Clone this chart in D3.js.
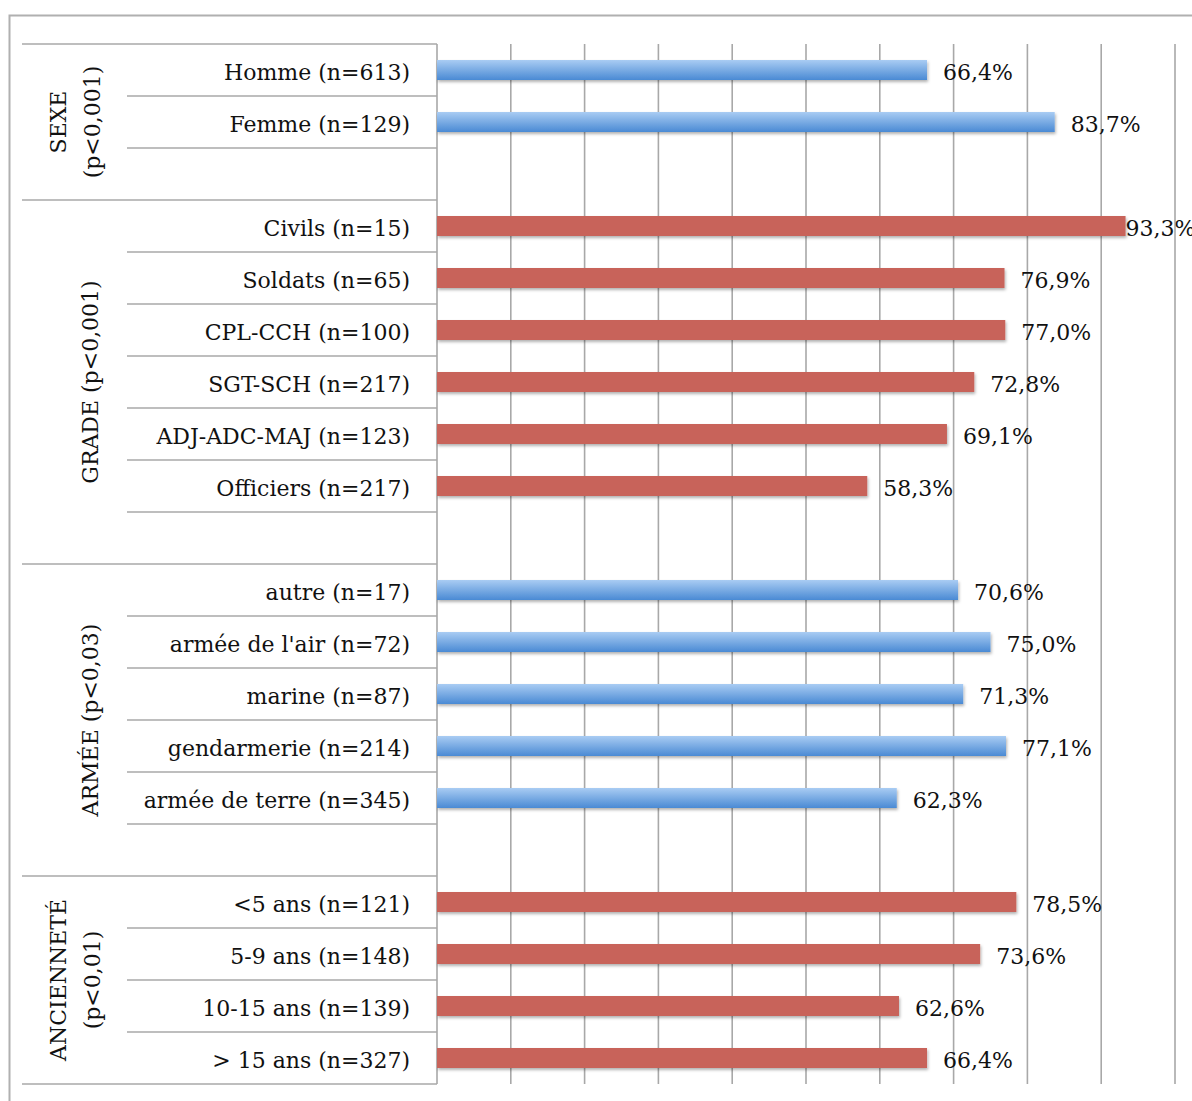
<!DOCTYPE html>
<html>
<head>
<meta charset="utf-8">
<script src="https://cdn.jsdelivr.net/npm/d3@7"></script>
<style>
  body { margin: 0; background: #fff; }
  text { font-family: "DejaVu Serif", "Liberation Serif", serif; fill: #111; }
</style>
</head>
<body>
<script>
// rows of the table, empty strings are the spacer rows between groups
var rowLabels = ["Homme (n=613)", "Femme (n=129)", "",
                 "Civils (n=15)", "Soldats (n=65)", "CPL-CCH (n=100)", "SGT-SCH (n=217)",
                 "ADJ-ADC-MAJ (n=123)", "Officiers (n=217)", "",
                 "autre (n=17)", "armée de l'air (n=72)", "marine (n=87)",
                 "gendarmerie (n=214)", "armée de terre (n=345)", "",
                 "<5 ans (n=121)", "5-9 ans (n=148)", "10-15 ans (n=139)", "> 15 ans (n=327)"];
var rowValues = [66.4, 83.7, null,
                 93.3, 76.9, 77.0, 72.8, 69.1, 58.3, null,
                 70.6, 75.0, 71.3, 77.1, 62.3, null,
                 78.5, 73.6, 62.6, 66.4];
var groupLabels = [["SEXE", "(p<0,001)"], ["GRADE (p<0,001)"], ["ARMÉE (p<0,03)"], ["ANCIENNETÉ", "(p<0,01)"]];
var groupSizes = [3, 7, 6, 4];
var groupColors = ["blue", "red", "blue", "red"];
var xTicks = [0, 10, 20, 30, 40, 50, 60, 70, 80, 90, 100];

window.onload = draw();

function draw(){
    var width = 1192,
        height = 1101;

    var svg = d3.select("body")
        .append("svg")
        .attr("width", width)
        .attr("height", height);

    var defs = svg.append("defs");
    var grad = defs.append("linearGradient")
        .attr("id", "blueGrad")
        .attr("x1", 0).attr("y1", 0).attr("x2", 0).attr("y2", 1);
    grad.append("stop").attr("offset", "0%").attr("stop-color", "#a9ccf3");
    grad.append("stop").attr("offset", "100%").attr("stop-color", "#4a8ad4");

    var shadow = defs.append("filter")
        .attr("id", "shadow")
        .attr("x", "-5%").attr("y", "-30%").attr("width", "110%").attr("height", "180%");
    shadow.append("feDropShadow")
        .attr("dx", 1).attr("dy", 2).attr("stdDeviation", 1.5)
        .attr("flood-color", "#000").attr("flood-opacity", 0.3);

    //outer frame
    svg.append("rect")
        .attr("x", 9.5).attr("y", 15.5)
        .attr("width", 1200).attr("height", 1100)
        .attr("fill", "none")
        .attr("stroke", "#b0b0b0")
        .attr("stroke-width", 2);

    var x = d3.scaleLinear().domain([0, 100]).range([437, 1175]);
    var y = d3.scaleBand().domain(d3.range(rowLabels.length)).range([44, 1084]);

    var lineColor = "#a8a8a8";

    //vertical gridlines
    svg.append("g")
        .selectAll("line")
        .data(xTicks)
        .enter()
        .append("line")
        .attr("x1", d => x(d)).attr("x2", d => x(d))
        .attr("y1", 44).attr("y2", 1084)
        .attr("stroke", lineColor)
        .attr("stroke-width", 1.6);

    //group start rows
    var starts = [];
    var acc = 0;
    groupSizes.forEach(function(n){ starts.push(acc); acc += n; });
    var groupStartRows = new Set(starts);

    //row separator lines (short inside a group, long at group borders)
    var lines = d3.range(rowLabels.length + 1);
    svg.append("g")
        .selectAll("line")
        .data(lines)
        .enter()
        .append("line")
        .attr("x1", d => (groupStartRows.has(d) || d === rowLabels.length) ? 22 : 127)
        .attr("x2", x(0))
        .attr("y1", d => d === rowLabels.length ? y.range()[1] : y(d))
        .attr("y2", d => d === rowLabels.length ? y.range()[1] : y(d))
        .attr("stroke", lineColor)
        .attr("stroke-width", 1.6);

    //group labels, rotated
    groupLabels.forEach(function(lbl, i){
        var y0 = y(starts[i]);
        var y1 = y0 + groupSizes[i] * y.step();
        var cy = (y0 + y1) / 2;
        var cx = lbl.length === 2 ? 75 : 90;
        var t = svg.append("text")
            .attr("transform", "translate(" + cx + "," + cy + ") rotate(-90)")
            .attr("text-anchor", "middle")
            .attr("font-size", 22);
        lbl.forEach(function(s, k){
            t.append("tspan")
                .attr("x", 0)
                .attr("y", (k - (lbl.length - 1) / 2) * 34 + 8)
                .text(s);
        });
    });

    //category labels
    svg.append("g")
        .selectAll("text")
        .data(rowLabels)
        .enter()
        .append("text")
        .attr("x", 410)
        .attr("y", (d, i) => y(i) + y.bandwidth() / 2 + 10)
        .attr("text-anchor", "end")
        .attr("font-size", 22)
        .text(d => d);

    //color of each row from its group
    var rowColor = [];
    groupSizes.forEach(function(n, i){
        for (var k = 0; k < n; k++) rowColor.push(groupColors[i]);
    });

    var barData = rowValues.map(function(v, i){ return {i: i, v: v, c: rowColor[i]}; })
        .filter(d => d.v !== null);

    var barH = 20;
    svg.append("g")
        .selectAll("rect")
        .data(barData)
        .enter()
        .append("rect")
        .attr("x", x(0))
        .attr("y", d => y(d.i) + y.bandwidth() / 2 - barH / 2)
        .attr("width", d => x(d.v) - x(0))
        .attr("height", barH)
        .attr("fill", d => d.c === "blue" ? "url(#blueGrad)" : "#c8645a")
        .attr("filter", "url(#shadow)");

    //value labels
    svg.append("g")
        .selectAll("text")
        .data(barData)
        .enter()
        .append("text")
        .attr("x", d => x(d.v) + (d.v > 90 ? 0 : 16))
        .attr("y", d => y(d.i) + y.bandwidth() / 2 + 10)
        .attr("font-size", 22)
        .text(d => d.v.toFixed(1).replace(".", ",") + "%");
}
</script>
</body>
</html>
